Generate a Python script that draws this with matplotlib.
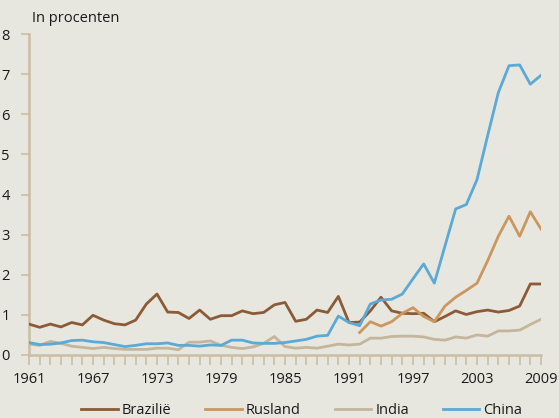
import matplotlib
matplotlib.use("Agg")
from matplotlib import pyplot as plt
import numpy as np

years = np.arange(1961, 2010)

brazilie = [0.77, 0.69, 0.77, 0.70, 0.81, 0.75, 0.99, 0.87, 0.78, 0.75,
            0.87, 1.27, 1.52, 1.07, 1.06, 0.91, 1.12, 0.89, 0.98, 0.98,
            1.10, 1.03, 1.06, 1.25, 1.31, 0.84, 0.89, 1.12, 1.06, 1.46,
            0.81, 0.82, 1.10, 1.44, 1.10, 1.04, 1.03, 1.04, 0.83, 0.96,
            1.10, 1.01, 1.08, 1.12, 1.07, 1.11, 1.22, 1.77, 1.77]

rusland_years = np.arange(1992, 2010)
rusland = [0.56, 0.83, 0.72, 0.83, 1.04, 1.18, 0.96, 0.83, 1.22, 1.44,
           1.61, 1.79, 2.35, 2.96, 3.46, 2.96, 3.57, 3.14]

india = [0.27, 0.24, 0.34, 0.29, 0.22, 0.19, 0.16, 0.19, 0.16, 0.14,
         0.14, 0.14, 0.17, 0.17, 0.13, 0.32, 0.32, 0.35, 0.24, 0.19,
         0.16, 0.20, 0.29, 0.46, 0.21, 0.17, 0.19, 0.17, 0.22, 0.27,
         0.25, 0.27, 0.42, 0.42, 0.46, 0.47, 0.47, 0.45, 0.39, 0.37,
         0.45, 0.42, 0.50, 0.47, 0.60, 0.60, 0.62, 0.76, 0.89]

china = [0.31, 0.26, 0.27, 0.30, 0.36, 0.37, 0.33, 0.31, 0.26, 0.21,
         0.24, 0.28, 0.28, 0.30, 0.24, 0.24, 0.22, 0.25, 0.24, 0.37,
         0.37, 0.30, 0.29, 0.29, 0.31, 0.35, 0.39, 0.47, 0.49, 0.97,
         0.81, 0.73, 1.27, 1.37, 1.39, 1.52, 1.90, 2.27, 1.79, 2.72,
         3.64, 3.75, 4.37, 5.47, 6.54, 7.21, 7.23, 6.75, 6.97]

year_labels = [1961, 1967, 1973, 1979, 1985, 1991, 1997, 2003, 2009]

bg = "#e8e7df"
axis_col = "#cbbda3"
txt = "#1a1a1a"
plt.rcParams['font.family'] = ['Open Sans', 'DejaVu Sans']

fig = plt.figure(figsize=(5.59, 4.18), dpi=100, facecolor=bg)
ax = fig.add_axes([29/559, 63/418, 512/559, 321/418], facecolor=bg)

lw = 2.0
ax.plot(years, brazilie, color="#8b5a36", lw=lw, label="Brazilië")
ax.plot(rusland_years, rusland, color="#c9975f", lw=lw, label="Rusland")
ax.plot(years, india, color="#c4b59c", lw=lw, label="India")
ax.plot(years, china, color="#5ba9d5", lw=lw, label="China")

ax.set_xlim(1961, 2009)
ax.set_ylim(0, 8)
for s in ["top", "right"]:
    ax.spines[s].set_visible(False)
for s in ["left", "bottom"]:
    ax.spines[s].set_color(axis_col)
    ax.spines[s].set_linewidth(1.8)
ax.spines["left"].set_zorder(0)

ax.set_xticks(years, minor=True)
ax.set_xticks(year_labels)
ax.set_xticklabels([str(y) for y in year_labels])
ax.set_yticks(range(0, 9))
ax.tick_params(axis="x", which="both", direction="out", length=7, width=1.2,
               color=axis_col, labelsize=10.5, labelcolor=txt, pad=5)
ax.tick_params(axis="y", direction="out", length=6, width=1.2,
               color=axis_col, labelsize=10.5, labelcolor=txt, pad=8)

fig.text(32/559, 1 - 18/418, "In procenten", fontsize=10.5, color=txt,
         va="center", ha="left")

fig.legend(loc="center", bbox_to_anchor=(0.54, 7/418), ncol=4, frameon=False,
           fontsize=10.5, handlelength=2.5, handletextpad=0.3, columnspacing=2.3,
           labelcolor=txt)

fig.savefig("out.png", dpi=100, facecolor=bg)
